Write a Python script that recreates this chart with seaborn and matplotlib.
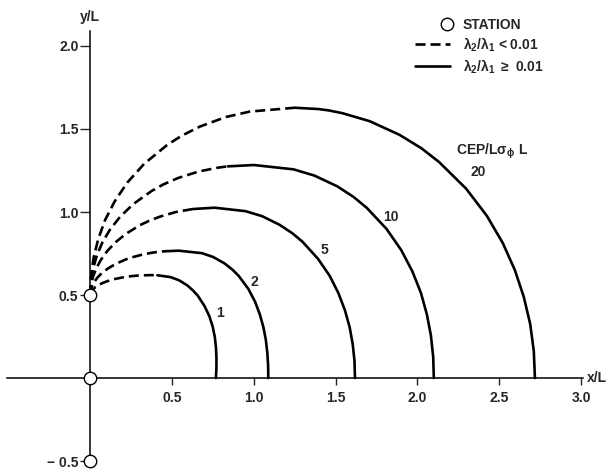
import matplotlib
matplotlib.use("Agg")
import matplotlib.pyplot as plt
import seaborn as sns
from matplotlib.lines import Line2D
from matplotlib.legend_handler import HandlerLine2D

sns.set_style("white")
plt.rcParams["font.family"] = ["Liberation Sans", "DejaVu Sans"]
plt.rcParams["font.weight"] = "bold"
plt.rcParams["mathtext.fontset"] = "dejavusans"
plt.rcParams["mathtext.default"] = "regular"

# ---- data (x/L, y/L) ----
curve_labels = ["1", "2", "5", "10", "20"]

# CEP = 1
dash_x_1 = [0.0, 0.0074, 0.0309, 0.0496, 0.074, 0.1058, 0.148, 0.2087, 0.2546, 0.2964, 0.37, 0.41]
dash_y_1 = [0.5, 0.524, 0.548, 0.56, 0.572, 0.584, 0.596, 0.608, 0.614, 0.6176, 0.62, 0.619]
solid_x_1 = [0.41, 0.49, 0.542, 0.593, 0.628, 0.657, 0.698, 0.728, 0.748, 0.761,
             0.768, 0.771, 0.771, 0.768]
solid_y_1 = [0.619, 0.608, 0.589, 0.558, 0.527, 0.496, 0.434, 0.372, 0.31, 0.248,
             0.186, 0.124, 0.062, 0.0]

# CEP = 2
dash_x_2 = [0.0, 0.0027, 0.0108, 0.0248, 0.045, 0.0724, 0.108, 0.1544, 0.216, 0.2554,
            0.3046, 0.3715, 0.4325, 0.464]
dash_y_2 = [0.5, 0.527, 0.553, 0.58, 0.607, 0.634, 0.66, 0.687, 0.714, 0.727,
            0.74, 0.754, 0.762, 0.764]
solid_x_2 = [0.464, 0.54, 0.683, 0.751, 0.821, 0.870, 0.908, 0.966, 1.007, 1.036,
             1.058, 1.073, 1.082, 1.087, 1.088]
solid_y_2 = [0.764, 0.767, 0.752, 0.729, 0.69, 0.652, 0.614, 0.537, 0.46, 0.384,
             0.307, 0.23, 0.153, 0.077, 0.0]

# CEP = 5
dash_x_5 = [0.0, 0.0038, 0.0152, 0.035, 0.0635, 0.102, 0.152, 0.217, 0.304, 0.3595,
            0.4286, 0.523, 0.609, 0.628]
dash_y_5 = [0.5, 0.553, 0.605, 0.658, 0.71, 0.763, 0.816, 0.868, 0.921, 0.947,
            0.973, 1.0, 1.015, 1.018]
solid_x_5 = [0.628, 0.76, 0.949, 1.05, 1.157, 1.235, 1.297, 1.392, 1.463, 1.516,
             1.556, 1.585, 1.604, 1.615, 1.618]
solid_y_5 = [1.018, 1.026, 1.005, 0.975, 0.923, 0.872, 0.821, 0.718, 0.616, 0.513,
             0.41, 0.308, 0.205, 0.103, 0.0]

# CEP = 10
dash_x_10 = [0.0, 0.0038, 0.0163, 0.039, 0.072, 0.119, 0.181, 0.263, 0.374, 0.446,
             0.537, 0.6625, 0.78, 0.841]
dash_y_10 = [0.5, 0.578, 0.657, 0.735, 0.813, 0.892, 0.97, 1.048, 1.126, 1.166,
             1.205, 1.244, 1.267, 1.275]
solid_x_10 = [0.841, 1.0, 1.242, 1.371, 1.509, 1.609, 1.689, 1.811, 1.901, 1.969,
              2.021, 2.057, 2.082, 2.096, 2.10]
solid_y_10 = [1.275, 1.283, 1.257, 1.219, 1.155, 1.091, 1.026, 0.898, 0.77, 0.642,
              0.513, 0.385, 0.257, 0.128, 0.0]

# CEP = 20
dash_x_20 = [0.0, 0.0048, 0.0204, 0.0488, 0.09, 0.149, 0.226, 0.329, 0.4675, 0.5575,
             0.671, 0.828, 0.975, 1.25]
dash_y_20 = [0.5, 0.613, 0.726, 0.838, 0.951, 1.064, 1.177, 1.29, 1.402, 1.459,
             1.515, 1.572, 1.605, 1.628]
solid_x_20 = [1.25, 1.397, 1.457, 1.542, 1.708, 1.89, 2.024, 2.131, 2.298, 2.424,
              2.521, 2.595, 2.65, 2.689, 2.711, 2.718]
solid_y_20 = [1.628, 1.62, 1.612, 1.595, 1.547, 1.465, 1.384, 1.302, 1.14, 0.977,
              0.814, 0.651, 0.488, 0.326, 0.163, 0.0]

label_x = [0.79, 1.0, 1.43, 1.84, 2.37]
label_y = [0.39, 0.58, 0.77, 0.97, 1.24]

station_x = [0.0, 0.0, 0.0]
station_y = [0.5, 0.0, -0.5]

x_ticks = [0.5, 1.0, 1.5, 2.0, 2.5, 3.0]
x_tick_labels = ["0.5", "1.0", "1.5", "2.0", "2.5", "3.0"]
y_ticks = [-0.5, 0.5, 1.0, 1.5, 2.0]
y_tick_labels = ["\u2212 0.5", "0.5", "1.0", "1.5", "2.0"]

dash_sets = [(dash_x_1, dash_y_1), (dash_x_2, dash_y_2), (dash_x_5, dash_y_5),
             (dash_x_10, dash_y_10), (dash_x_20, dash_y_20)]
solid_sets = [(solid_x_1, solid_y_1), (solid_x_2, solid_y_2), (solid_x_5, solid_y_5),
              (solid_x_10, solid_y_10), (solid_x_20, solid_y_20)]

# ---- figure ----
fig = plt.figure(figsize=(6.11, 4.70), dpi=100)
ax = fig.add_axes([0, 0, 1, 1])
ax.set_facecolor("white")

lw = 1.9
dash_pat = (3.8, 1.9)
for (dx, dy), (sx, sy) in zip(dash_sets, solid_sets):
    sns.lineplot(x=dx, y=dy, sort=False, estimator=None, ax=ax, color="black",
                 linewidth=lw, legend=False)
    ax.lines[-1].set_dashes(dash_pat)
    ax.lines[-1].set_solid_joinstyle("round")
    sns.lineplot(x=sx, y=sy, sort=False, estimator=None, ax=ax, color="black",
                 linewidth=lw, legend=False)
    ax.lines[-1].set_solid_joinstyle("round")

sns.scatterplot(x=station_x, y=station_y, ax=ax, s=80, color="white",
                edgecolor="black", linewidth=1.0, zorder=5, legend=False)

fs = 10
for lab, lx, ly in zip(curve_labels, label_x, label_y):
    ax.text(lx, ly, lab, fontsize=fs, fontweight="bold", ha="center", va="center")
ax.text(2.235, 1.365, r"CEP/L$\sigma_{\phi}$ L", fontsize=fs, fontweight="bold",
        ha="left", va="center")

ax.set_xlim(-0.552, 3.183)
ax.set_ylim(-0.554, 2.277)

for s in ["top", "right"]:
    ax.spines[s].set_visible(False)
ax.spines["left"].set_position(("data", 0))
ax.spines["bottom"].set_position(("data", 0))
ax.spines["left"].set_bounds(-0.5, 2.09)
ax.spines["bottom"].set_bounds(-0.51, 3.01)
for s in ["left", "bottom"]:
    ax.spines[s].set_linewidth(1.1)
    ax.spines[s].set_color("black")
    ax.spines[s].set_zorder(1)

ax.set_xticks(x_ticks)
ax.set_xticklabels(x_tick_labels, fontsize=fs, fontweight="bold")
ax.set_yticks(y_ticks)
ax.set_yticklabels(y_tick_labels, fontsize=fs, fontweight="bold")
ax.tick_params(axis="x", direction="out", length=5, width=1.0, pad=4, bottom=True)
ax.tick_params(axis="y", direction="out", length=7, width=1.0, pad=1.5, left=True)
ax.set_xlabel("")
ax.set_ylabel("")

ax.text(0, 2.175, "y/L", fontsize=fs, fontweight="bold", ha="center", va="center")
ax.text(3.035, 0, "x/L", fontsize=fs, fontweight="bold", ha="left", va="center")


class RightMarkerHandler(HandlerLine2D):
    """Legend handler that puts the single marker near the right end of the handle."""
    def get_xdata(self, legend, xdescent, ydescent, width, height, fontsize):
        xs = [0.84 * width - xdescent, width - xdescent]
        return xs, xs


station_handle = Line2D([], [], linestyle="none", marker="o", markersize=9,
                        markerfacecolor="white", markeredgecolor="black",
                        markeredgewidth=1.0)
handles = [
    station_handle,
    Line2D([], [], color="black", linewidth=lw, dashes=dash_pat),
    Line2D([], [], color="black", linewidth=lw),
]
labels = ["STATION", r"$\lambda_2/\lambda_1$ < 0.01", r"$\lambda_2/\lambda_1$ $\geq$ 0.01"]
leg = ax.legend(handles, labels, loc="upper left", bbox_to_anchor=(0.679, 0.962),
                frameon=False, fontsize=fs, handlelength=2.5, handletextpad=0.95,
                labelspacing=0.25, borderpad=0, borderaxespad=0, numpoints=1,
                handler_map={station_handle: RightMarkerHandler(numpoints=1)})
for t in leg.get_texts():
    t.set_fontweight("bold")

fig.savefig("out.png", dpi=100)
